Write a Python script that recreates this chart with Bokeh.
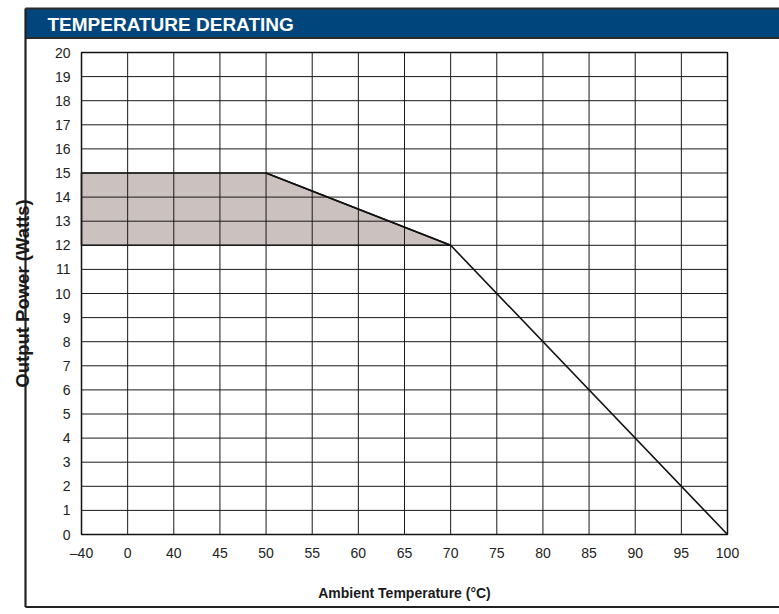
from bokeh.plotting import figure
from bokeh.models import FixedTicker, Range1d
from bokeh.core.properties import value
from bokeh.embed import file_html
from bokeh.resources import INLINE

# ---- data ----
tick_labels = ["\u201340", "0", "40", "45", "50", "55", "60", "65", "70", "75", "80", "85", "90", "95", "100"]
tick_temps = [-40, 0, 40, 45, 50, 55, 60, 65, 70, 75, 80, 85, 90, 95, 100]
watts_ticks = list(range(0, 21))

curve_temps = [50, 70, 100]
curve_watts = [15, 12, 0]

region_temps = [-40, 50, 70, -40]
region_watts = [15, 15, 12, 12]

title_text = "TEMPERATURE DERATING"
x_title = "Ambient Temperature (\u00b0C)"
y_title = "Output Power (Watts)"

# ---- layout (pixels on the canvas) ----
W, H = 779, 614
GL, GR, GT, GB = 81, 727, 52, 534          # grid box
n_x = len(tick_temps) - 1
y_max = watts_ticks[-1]
sx = (GR - GL) / n_x
sy = (GB - GT) / y_max
x0, x1 = -GL / sx, n_x + (W - GR) / sx
y0, y1 = -(H - GB) / sy, y_max + GT / sy

def X(px):
    return x0 + px / sx

def Y(py):
    return y1 - py / sy

def pos(t):
    return tick_temps.index(t)

p = figure(width=W, height=H, output_backend="svg", toolbar_location=None,
           x_range=Range1d(x0, x1), y_range=Range1d(y0, y1), min_border=0)
p.min_border_left = p.min_border_right = p.min_border_top = p.min_border_bottom = 0
p.title.visible = False
p.outline_line_color = None
p.background_fill_color = "white"
p.border_fill_color = "white"
p.xgrid.visible = False
p.ygrid.visible = False

# shaded region
p.patch([pos(t) for t in region_temps], region_watts, fill_color="#cbc1bf", line_color=None)

# grid lines
xi = list(range(len(tick_temps)))
p.segment(x0=xi, x1=xi, y0=[0] * len(xi), y1=[y_max] * len(xi), line_color="#1a1a1a", line_width=1)
p.segment(x0=[0] * len(watts_ticks), x1=[n_x] * len(watts_ticks), y0=watts_ticks, y1=watts_ticks,
          line_color="#1a1a1a", line_width=1)
# grid box
p.quad(left=[0], right=[n_x], bottom=[0], top=[y_max], fill_color=None, line_color="#111111", line_width=1.5)

# region outline and derating curve
p.patch([pos(t) for t in region_temps], region_watts, fill_color=None, line_color="#1a1a1a", line_width=1.5)
p.line([pos(t) for t in curve_temps], curve_watts, line_color="#111111", line_width=1.6)

# axes at fixed locations
p.xaxis.fixed_location = 0
p.yaxis.fixed_location = 0
p.xaxis.bounds = (0, n_x)
p.yaxis.bounds = (0, y_max)
p.xaxis.ticker = FixedTicker(ticks=xi)
p.xaxis.major_label_overrides = {i: lab for i, lab in enumerate(tick_labels)}
p.yaxis.ticker = FixedTicker(ticks=watts_ticks)
for ax in (p.xaxis[0], p.yaxis[0]):
    ax.axis_line_color = None
    ax.major_tick_line_color = None
    ax.minor_tick_line_color = None
    ax.major_tick_out = 0
    ax.major_tick_in = 0
    ax.major_label_text_font = "Liberation Sans"
    ax.major_label_text_font_size = "14px"
    ax.major_label_text_color = "#222222"
    ax.axis_label_text_font = "Liberation Sans"
    ax.axis_label_text_font_style = "bold"
    ax.axis_label_text_color = "#1a1a1a"
p.xaxis.axis_label = x_title
p.yaxis.axis_label = y_title
p.xaxis.axis_label_text_font_size = "14px"
p.yaxis.axis_label_text_font_size = "18.5px"
p.xaxis.major_label_standoff = 10
p.xaxis.axis_label_standoff = 21
p.yaxis.major_label_standoff = 11
p.yaxis.axis_label_standoff = 19

# title bar and outer frame
p.quad(left=[X(25)], right=[X(W + 20)], top=[Y(8)], bottom=[Y(37.5)], fill_color="#00467c", line_color=None)
p.segment(x0=[X(25), X(25)], x1=[X(W + 20), X(W + 20)], y0=[Y(8), Y(37.5)], y1=[Y(8), Y(37.5)],
          line_color="#2b2b2b", line_width=2)
p.segment(x0=[X(25), X(25)], x1=[X(25), X(W + 20)], y0=[Y(8), Y(606.5)], y1=[Y(606.5), Y(606.5)],
          line_color="#222222", line_width=2.2)
p.text(x=[X(47)], y=[Y(23.5)], text=[title_text], text_color="white",
       text_font=value("Liberation Sans"),
       text_font_style="bold", text_font_size="19px", text_baseline="middle", text_align="left")

open("out.html", "w").write(file_html(p, INLINE))
